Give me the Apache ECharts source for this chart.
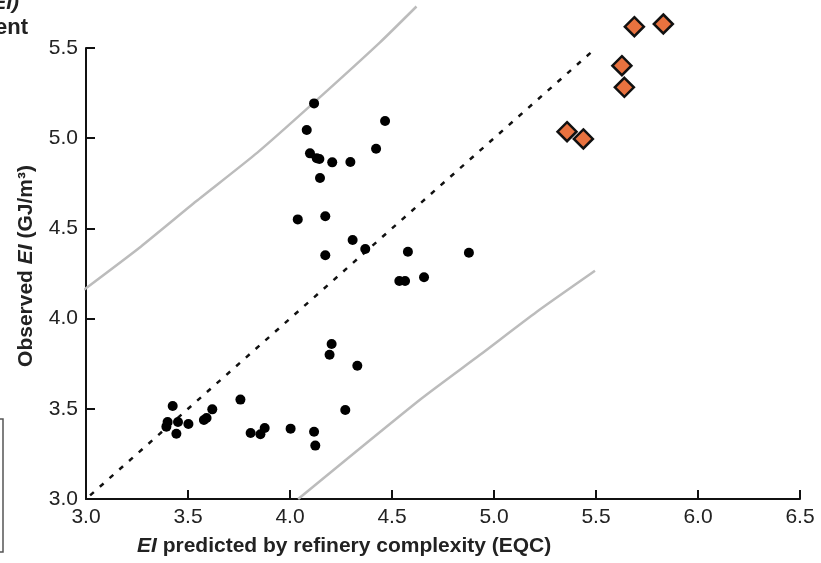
<!DOCTYPE html>
<html>
<head>
<meta charset="utf-8">
<title>Observed vs predicted EI</title>
<script src="https://cdn.jsdelivr.net/npm/echarts@6/dist/echarts.min.js"></script>
<style>
  html, body { margin: 0; padding: 0; background: #fff; }
  #chart { width: 821px; height: 563px; }
</style>
</head>
<body>
<div id="chart"></div>
<script>
// Refineries: EI predicted by complexity (EQC) vs observed EI, GJ/m3
const refineryPoints = [
  [4.118, 5.193], [4.082, 5.045], [4.466, 5.095], [4.098, 4.916], [4.131, 4.889],
  [4.144, 4.885], [4.207, 4.866], [4.296, 4.868], [4.422, 4.942], [4.147, 4.779],
  [4.038, 4.550], [4.173, 4.567], [4.307, 4.436], [4.369, 4.386], [4.173, 4.351],
  [4.578, 4.371], [4.877, 4.365], [4.536, 4.208], [4.564, 4.208], [4.657, 4.229],
  [4.204, 3.859], [4.194, 3.800], [4.330, 3.739], [3.425, 3.516], [3.400, 3.427],
  [3.394, 3.401], [3.451, 3.427], [3.443, 3.362], [3.502, 3.416], [3.578, 3.438],
  [3.591, 3.449], [3.619, 3.497], [3.757, 3.551], [3.807, 3.366], [3.855, 3.359],
  [3.876, 3.394], [4.003, 3.390], [4.118, 3.373], [4.124, 3.296], [4.271, 3.493]
];

// Highlighted group
const highlightPoints = [
  [5.688, 5.618], [5.830, 5.633], [5.627, 5.402], [5.639, 5.282], [5.358, 5.036], [5.438, 4.996]
];

// 1:1 line and the upper / lower bounds around it
const parityLine = [[3.02, 3.02], [5.50, 5.50]];
const upperBound = [
  [2.99, 4.16], [3.27, 4.40], [3.54, 4.65], [3.84, 4.92],
  [4.11, 5.19], [4.44, 5.53], [4.62, 5.73]
];
const lowerBound = [
  [4.04, 3.00], [4.64, 3.553], [4.93, 3.798], [5.21, 4.038], [5.495, 4.265]
];

// Axis ranges
const xRange = { min: 3.0, max: 6.5, interval: 0.5 };
const yRange = { min: 3.0, max: 5.5, interval: 0.5 };

const FONT = '"Liberation Sans", Arial, sans-serif';
const chart = echarts.init(document.getElementById('chart'), null, { renderer: 'canvas' });

const axisCommon = {
  axisLine: { show: true, lineStyle: { color: '#111', width: 2 } },
  axisTick: { show: true, inside: true, length: 9, lineStyle: { color: '#111', width: 2 } },
  splitLine: { show: false },
  axisLabel: {
    color: '#222', fontSize: 21, fontFamily: FONT, margin: 8,
    formatter: v => v.toFixed(1)
  }
};

const titleRich = {
  i: { fontFamily: FONT, fontSize: 21, fontWeight: 'bold', fontStyle: 'italic', fill: '#222' },
  b: { fontFamily: FONT, fontSize: 21, fontWeight: 'bold', fill: '#222' }
};

chart.setOption({
  animation: false,
  backgroundColor: '#fff',
  textStyle: { fontFamily: FONT },
  grid: { left: 86, right: 21, top: 48, bottom: 64, containLabel: false },
  xAxis: Object.assign({ type: 'value' }, xRange, axisCommon),
  yAxis: Object.assign({ type: 'value' }, yRange, axisCommon),
  series: [
    {
      type: 'line', data: upperBound, smooth: 0.2, symbol: 'none', clip: false,
      lineStyle: { color: '#bcbcbc', width: 2.5, join: 'round' }, z: 1
    },
    {
      type: 'line', data: lowerBound, smooth: 0.2, symbol: 'none', clip: false,
      lineStyle: { color: '#bcbcbc', width: 2.5, join: 'round' }, z: 1
    },
    {
      type: 'line', data: parityLine, symbol: 'none', clip: false,
      lineStyle: { color: '#111', width: 2.5, type: [5, 8] }, z: 2
    },
    {
      type: 'scatter', data: refineryPoints, symbol: 'circle', symbolSize: 10,
      itemStyle: { color: '#000', opacity: 1 }, clip: false, z: 3
    },
    {
      type: 'scatter', data: highlightPoints, symbol: 'diamond', symbolSize: [19, 19],
      itemStyle: { color: '#E8723F', borderColor: '#111', borderWidth: 2.5, opacity: 1 },
      clip: false, z: 4
    }
  ],
  graphic: [
    {
      type: 'text', left: 137, top: 536,
      style: { text: '{i|EI}{b| predicted by refinery complexity (EQC)}', rich: titleRich }
    },
    {
      type: 'text', x: 26, y: 266, rotation: Math.PI / 2,
      style: {
        text: '{b|Observed }{i|EI}{b| (GJ/m³)}',
        align: 'center', verticalAlign: 'middle', rich: titleRich
      }
    },
    {
      type: 'text', x: 19, y: 14,
      style: {
        text: '(EI)', align: 'right', verticalAlign: 'bottom',
        fontFamily: FONT, fontSize: 21, fontWeight: 'bold', fontStyle: 'italic', fill: '#222'
      }
    },
    {
      type: 'text', x: 28, y: 39,
      style: {
        text: 'ent', align: 'right', verticalAlign: 'bottom',
        fontFamily: FONT, fontSize: 22, fontWeight: 'bold', fill: '#222'
      }
    },
    {
      type: 'rect', shape: { x: -20, y: 419, width: 23, height: 133 },
      style: { fill: 'none', stroke: '#555', lineWidth: 1.5 }
    }
  ]
});
</script>
</body>
</html>
